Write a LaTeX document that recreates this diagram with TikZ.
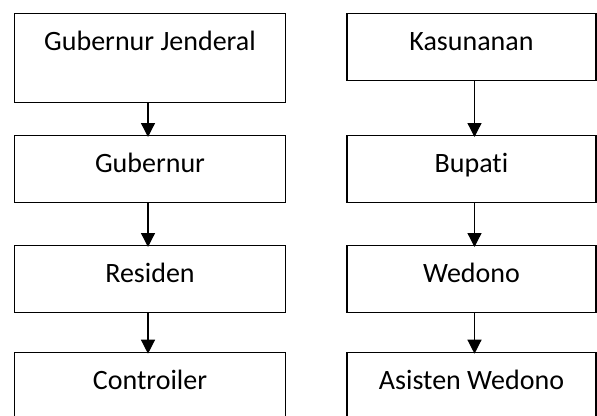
\documentclass[tikz,border=0pt]{standalone}
\usepackage{fontspec}
\setmainfont{Carlito}[Ligatures=NoCommon]
\usetikzlibrary{arrows.meta}
\tikzset{
	orgbox/.style={draw=black, line width=1.3pt, inner xsep=0pt, inner ysep=0pt, anchor=north, text height=37pt, text depth=30pt, font=\fontsize{28}{33}\selectfont},
	leftbox/.style={orgbox, minimum width=271pt},
	rightbox/.style={orgbox, minimum width=249pt},
	orgarrow/.style={draw=black, line width=1.3pt, -{Triangle[width=14pt,length=14pt]}, shorten >=-2pt}
}
\begin{document}
\begin{tikzpicture}[x=1pt, y=-1pt]
	\clip (0,0) rectangle (597,415);
	\node[leftbox, text depth=52pt] (gubjen) at (150,13) {Gubernur Jenderal};
	\node[leftbox] (gubernur) at (150,135) {Gubernur};
	\node[leftbox] (residen) at (150,245) {Residen};
	\node[leftbox] (controiler) at (150,351.7) {Controiler};
	\node[rightbox] (kasunanan) at (471.5,13) {Kasunanan};
	\node[rightbox] (bupati) at (471.5,135) {Bupati};
	\node[rightbox] (wedono) at (471.5,245) {Wedono};
	\node[rightbox] (asisten) at (471.5,351.7) {Asisten Wedono};
	\draw[orgarrow] ([xshift=-2pt]gubjen.south) -- ([xshift=-2pt]gubernur.north);
	\draw[orgarrow] ([xshift=-2pt]gubernur.south) -- ([xshift=-2pt]residen.north);
	\draw[orgarrow] ([xshift=-2pt]residen.south) -- ([xshift=-2pt]controiler.north);
	\draw[orgarrow] ([xshift=3pt]kasunanan.south) -- ([xshift=3pt]bupati.north);
	\draw[orgarrow] ([xshift=3pt]bupati.south) -- ([xshift=3pt]wedono.north);
	\draw[orgarrow] ([xshift=3pt]wedono.south) -- ([xshift=3pt]asisten.north);
\end{tikzpicture}
\end{document}
